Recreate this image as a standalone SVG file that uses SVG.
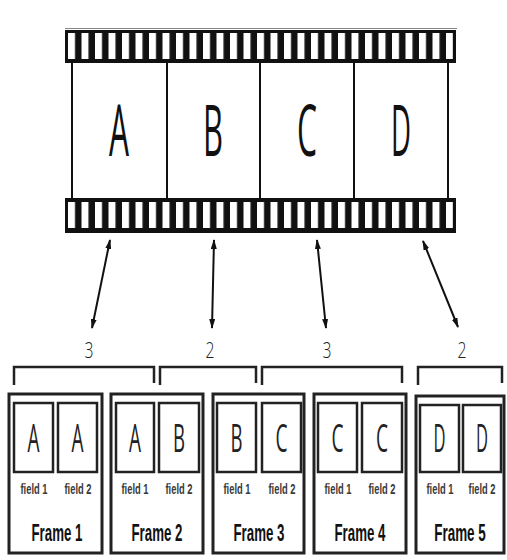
<svg xmlns="http://www.w3.org/2000/svg" width="507" height="560" viewBox="0 0 507 560">
<style>
.band{fill:#111}
.div{stroke:#111;stroke-width:2;fill:none}
.big{font-family:"Open Sans","DejaVu Sans",sans-serif;font-weight:400;font-size:72px;fill:#111;text-anchor:middle}
.num{font-family:"Open Sans","DejaVu Sans",sans-serif;font-weight:300;font-size:22px;fill:#222;text-anchor:middle}
.arrow{stroke:#111;stroke-width:2;fill:none;marker-start:url(#ah);marker-end:url(#ah)}
.brk{stroke:#222;stroke-width:2.5;fill:none}
.frame{fill:#fff;stroke:#222;stroke-width:3}
.field{fill:#fff;stroke:#222;stroke-width:2.5}
.fl{font-family:"Open Sans","DejaVu Sans",sans-serif;font-weight:400;font-size:39px;fill:#222;text-anchor:middle}
.flab{font-family:"Liberation Sans",Arial,sans-serif;font-size:15px;font-weight:bold;fill:#3a3a3a;text-anchor:middle}
.flabel{font-family:"Liberation Sans",Arial,sans-serif;font-size:24px;font-weight:bold;fill:#111;text-anchor:middle}
</style>
<defs>
<marker id="ah" viewBox="0 0 10 6" refX="9" refY="3" markerWidth="10" markerHeight="6" markerUnits="userSpaceOnUse" orient="auto-start-reverse">
<path d="M0,0 L10,3 L0,6 Z" fill="#111"/>
</marker>
<pattern id="holes" x="68" y="0" width="13.5" height="560" patternUnits="userSpaceOnUse">
<rect x="0" y="0" width="7" height="560" fill="#fff"/>
</pattern>
</defs>
<g id="filmstrip">
<line x1="65" y1="28.5" x2="457" y2="28.5" stroke="#888" stroke-width="1"/>
<rect class="band" x="65" y="30" width="391" height="33"/>
<rect x="68" y="33" width="385" height="26" fill="url(#holes)"/>
<rect class="band" x="65" y="198" width="391" height="35"/>
<rect x="68" y="202" width="385" height="26" fill="url(#holes)"/>
<line class="div" x1="72" y1="63" x2="72" y2="198"/>
<line class="div" x1="167" y1="63" x2="167" y2="198"/>
<line class="div" x1="260" y1="63" x2="260" y2="198"/>
<line class="div" x1="354" y1="63" x2="354" y2="198"/>
<line class="div" x1="448" y1="63" x2="448" y2="198"/>
<text class="big" x="119" y="156" textLength="20" lengthAdjust="spacingAndGlyphs">A</text>
<text class="big" x="213" y="156" textLength="20" lengthAdjust="spacingAndGlyphs">B</text>
<text class="big" x="307" y="156" textLength="20" lengthAdjust="spacingAndGlyphs">C</text>
<text class="big" x="401" y="156" textLength="20" lengthAdjust="spacingAndGlyphs">D</text>
</g>
<g id="connectors">
<line class="arrow" x1="110" y1="240" x2="92" y2="328"/>
<line class="arrow" x1="214" y1="240" x2="212" y2="328"/>
<line class="arrow" x1="317" y1="240" x2="326" y2="328"/>
<line class="arrow" x1="423" y1="241" x2="458" y2="327"/>
</g>
<g id="counts">
<text class="num" x="89" y="358" textLength="9" lengthAdjust="spacingAndGlyphs">3</text>
<text class="num" x="210" y="358" textLength="9" lengthAdjust="spacingAndGlyphs">2</text>
<text class="num" x="327" y="358" textLength="9" lengthAdjust="spacingAndGlyphs">3</text>
<text class="num" x="462" y="358" textLength="9" lengthAdjust="spacingAndGlyphs">2</text>
</g>
<g id="brackets">
<path class="brk" d="M14,385 V367 H154 V383"/>
<path class="brk" d="M160,385 V367 H256 V383"/>
<path class="brk" d="M262,385 V367 H402 V383"/>
<path class="brk" d="M418,385 V367 H502 V383"/>
</g>
<g id="frame1">
<rect class="frame" x="9" y="394" width="93" height="159"/>
<rect class="field" x="14" y="403" width="39" height="69"/>
<rect class="field" x="58" y="403" width="39" height="69"/>
<text class="fl" x="33.5" y="452" textLength="12" lengthAdjust="spacingAndGlyphs">A</text>
<text class="fl" x="77.5" y="452" textLength="12" lengthAdjust="spacingAndGlyphs">A</text>
<text class="flab" x="34" y="494" textLength="27" lengthAdjust="spacingAndGlyphs">field 1</text>
<text class="flab" x="78" y="494" textLength="27" lengthAdjust="spacingAndGlyphs">field 2</text>
<text class="flabel" x="57" y="541" textLength="51" lengthAdjust="spacingAndGlyphs">Frame 1</text>
</g>
<g id="frame2">
<rect class="frame" x="111" y="394" width="92" height="159"/>
<rect class="field" x="116" y="403" width="38" height="69"/>
<rect class="field" x="159" y="403" width="40" height="69"/>
<text class="fl" x="135" y="452" textLength="12" lengthAdjust="spacingAndGlyphs">A</text>
<text class="fl" x="179" y="452" textLength="12" lengthAdjust="spacingAndGlyphs">B</text>
<text class="flab" x="135" y="494" textLength="27" lengthAdjust="spacingAndGlyphs">field 1</text>
<text class="flab" x="179" y="494" textLength="27" lengthAdjust="spacingAndGlyphs">field 2</text>
<text class="flabel" x="157" y="541" textLength="51" lengthAdjust="spacingAndGlyphs">Frame 2</text>
</g>
<g id="frame3">
<rect class="frame" x="213" y="394" width="91" height="159"/>
<rect class="field" x="217" y="403" width="39" height="69"/>
<rect class="field" x="262" y="403" width="39" height="69"/>
<text class="fl" x="236.5" y="452" textLength="12" lengthAdjust="spacingAndGlyphs">B</text>
<text class="fl" x="281.5" y="452" textLength="12" lengthAdjust="spacingAndGlyphs">C</text>
<text class="flab" x="237" y="494" textLength="27" lengthAdjust="spacingAndGlyphs">field 1</text>
<text class="flab" x="282" y="494" textLength="27" lengthAdjust="spacingAndGlyphs">field 2</text>
<text class="flabel" x="259" y="541" textLength="51" lengthAdjust="spacingAndGlyphs">Frame 3</text>
</g>
<g id="frame4">
<rect class="frame" x="314" y="394" width="92" height="159"/>
<rect class="field" x="318" y="403" width="39" height="69"/>
<rect class="field" x="362" y="403" width="40" height="69"/>
<text class="fl" x="337.5" y="452" textLength="12" lengthAdjust="spacingAndGlyphs">C</text>
<text class="fl" x="382" y="452" textLength="12" lengthAdjust="spacingAndGlyphs">C</text>
<text class="flab" x="338" y="494" textLength="27" lengthAdjust="spacingAndGlyphs">field 1</text>
<text class="flab" x="382" y="494" textLength="27" lengthAdjust="spacingAndGlyphs">field 2</text>
<text class="flabel" x="360" y="541" textLength="51" lengthAdjust="spacingAndGlyphs">Frame 4</text>
</g>
<g id="frame5">
<rect class="frame" x="416" y="396" width="88" height="157"/>
<rect class="field" x="420" y="405" width="39" height="67"/>
<rect class="field" x="463" y="405" width="38" height="67"/>
<text class="fl" x="439.5" y="452" textLength="12" lengthAdjust="spacingAndGlyphs">D</text>
<text class="fl" x="482" y="452" textLength="12" lengthAdjust="spacingAndGlyphs">D</text>
<text class="flab" x="440" y="494" textLength="27" lengthAdjust="spacingAndGlyphs">field 1</text>
<text class="flab" transform="translate(482,494) scale(0.62,1)" x="0" y="0">field 2</text>
<text class="flabel" transform="translate(460,541) scale(0.56,1)" x="0" y="0">Frame 5</text>
</g>
</svg>
